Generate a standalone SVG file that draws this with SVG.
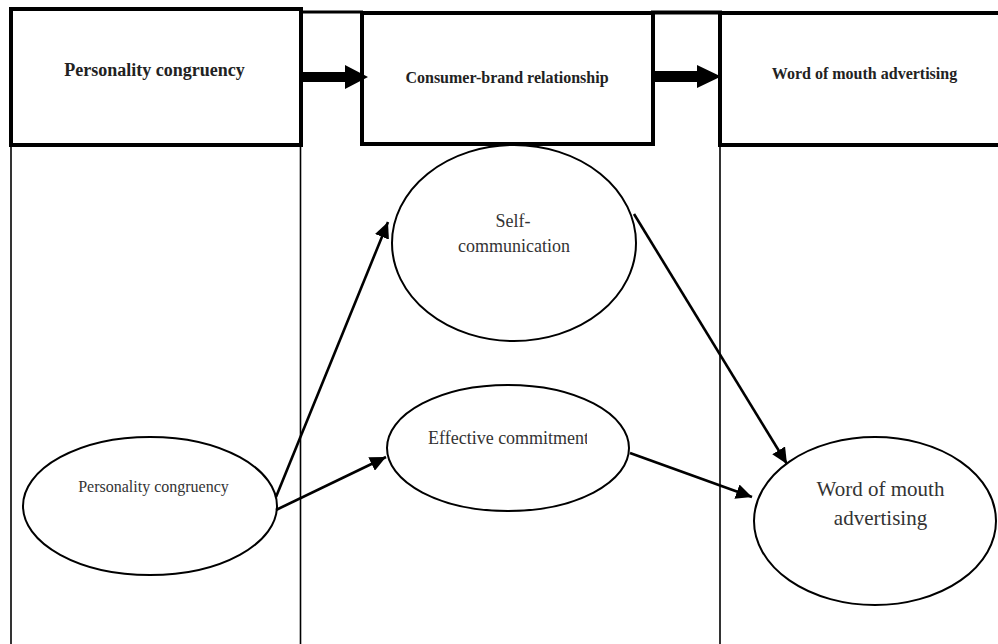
<svg xmlns="http://www.w3.org/2000/svg" width="998" height="644" viewBox="0 0 998 644">
  <style>
    .hdr { fill: #fff; stroke: #000; stroke-width: 4; }
    .col { stroke: #000; stroke-width: 1.6; fill: none; }
    .ell { fill: #fff; stroke: #000; stroke-width: 2; }
    .conn { stroke: #000; stroke-width: 2.6; fill: none; }
    .bt { font-family: "Liberation Serif", "Times New Roman", serif; font-weight: bold; fill: #222; text-anchor: middle; }
    .rt { font-family: "Liberation Serif", "Times New Roman", serif; fill: #333; text-anchor: middle; }
  </style>
  <defs>
    <marker id="ah" markerUnits="userSpaceOnUse" markerWidth="17" markerHeight="15" refX="16" refY="7.5" orient="auto">
      <path d="M0,0 L16,7.5 L0,15 Z" fill="#000"/>
    </marker>
    <clipPath id="ecClip">
      <rect x="380" y="420" width="207" height="40"/>
    </clipPath>
  </defs>
  <rect width="998" height="644" fill="#fff"/>

  <!-- frame / column lines -->
  <g id="frame">
    <line class="col" x1="11" y1="145" x2="11" y2="644"/>
    <line class="col" x1="300.5" y1="145" x2="300.5" y2="644"/>
    <line class="col" x1="720" y1="145" x2="720" y2="644"/>
    <line x1="300" y1="12" x2="363" y2="12" stroke="#000" stroke-width="3"/>
    <line x1="651" y1="12.5" x2="722" y2="12.5" stroke="#000" stroke-width="4"/>
  </g>

  <g id="hdr-personality">
    <rect class="hdr" x="11" y="9" width="290" height="136"/>
    <text class="bt" x="154.5" y="76" font-size="18">Personality congruency</text>
  </g>
  <g id="hdr-cbr">
    <rect class="hdr" x="362" y="13" width="291" height="131"/>
    <text class="bt" x="507" y="83" font-size="16">Consumer-brand relationship</text>
  </g>
  <g id="hdr-wom">
    <rect class="hdr" x="720" y="13" width="300" height="132"/>
    <text class="bt" x="864.5" y="79" font-size="16">Word of mouth advertising</text>
  </g>

  <g id="node-pc">
    <ellipse class="ell" cx="150" cy="506" rx="127" ry="69"/>
    <text class="rt" x="153.5" y="492" font-size="16">Personality congruency</text>
  </g>
  <g id="node-sc">
    <ellipse class="ell" cx="514" cy="243" rx="122" ry="98"/>
    <text class="rt" x="513" y="227" font-size="18">Self-</text>
    <text class="rt" x="514" y="252" font-size="18">communication</text>
  </g>
  <g id="node-ec">
    <ellipse class="ell" cx="508" cy="448" rx="121" ry="63"/>
    <text class="rt" x="428" y="444" font-size="18" style="text-anchor:start" clip-path="url(#ecClip)">Effective commitment</text>
  </g>
  <g id="node-wom">
    <ellipse class="ell" cx="875" cy="521" rx="121" ry="84"/>
    <text class="rt" x="880.5" y="496" font-size="21">Word of mouth</text>
    <text class="rt" x="880.5" y="525" font-size="21">advertising</text>
  </g>

  <g id="connectors">
    <polygon points="302,72 345,72 345,65 368,77 345,89 345,82 302,82" fill="#000"/>
    <polygon points="655,71 697,71 697,65 721,76.5 697,88 697,82 655,82" fill="#000"/>
    <line class="conn" x1="276" y1="497" x2="388" y2="222" marker-end="url(#ah)"/>
    <line class="conn" x1="276" y1="510" x2="386" y2="457" marker-end="url(#ah)"/>
    <line class="conn" x1="634" y1="214" x2="787" y2="464" marker-end="url(#ah)"/>
    <line class="conn" x1="630" y1="453" x2="752" y2="497" marker-end="url(#ah)"/>
  </g>
</svg>
